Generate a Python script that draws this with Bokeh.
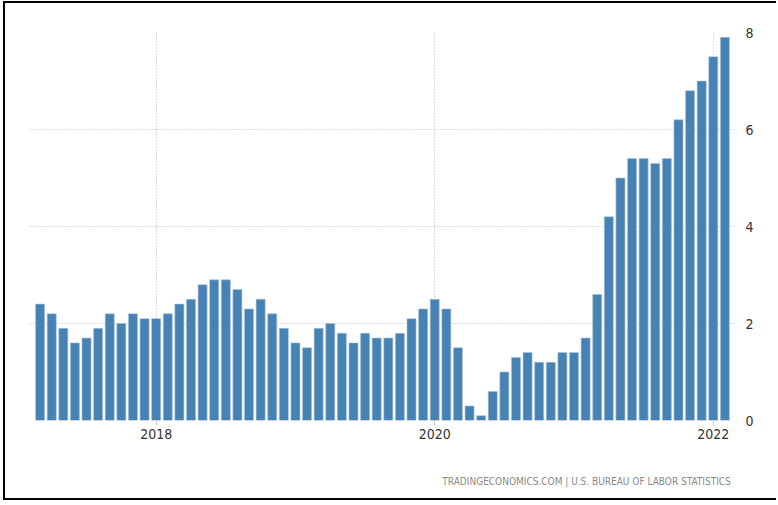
from bokeh.plotting import figure
from bokeh.models import FixedTicker, Title, Range1d
from bokeh.embed import file_html
from bokeh.resources import INLINE

# Monthly US CPI inflation rate, Mar 2017 .. Feb 2022 (%)
months = [f"{y}-{m:02d}" for y in range(2017, 2023) for m in range(1, 13)]
months = months[2:62]
values = [2.4, 2.2, 1.9, 1.6, 1.7, 1.9, 2.2, 2.0, 2.2, 2.1,
          2.1, 2.2, 2.4, 2.5, 2.8, 2.9, 2.9, 2.7, 2.3, 2.5, 2.2, 1.9,
          1.6, 1.5, 1.9, 2.0, 1.8, 1.6, 1.8, 1.7, 1.7, 1.8, 2.1, 2.3,
          2.5, 2.3, 1.5, 0.3, 0.1, 0.6, 1.0, 1.3, 1.4, 1.2, 1.2, 1.4,
          1.4, 1.7, 2.6, 4.2, 5.0, 5.4, 5.4, 5.3, 5.4, 6.2, 6.8, 7.0,
          7.5, 7.9]
x_tick_labels = ["2018", "2020", "2022"]
y_ticks = [0, 2, 4, 6, 8]
source_text = "TRADINGECONOMICS.COM  |  U.S. BUREAU OF LABOR STATISTICS"

idx = list(range(len(values)))
x_ticks = [months.index(f"{lab}-01") for lab in x_tick_labels]

FONT = "'Liberation Sans Narrow', 'DejaVu Sans Condensed', 'Roboto Condensed', Roboto, sans-serif"

p = figure(width=773, height=499, output_backend="svg", toolbar_location=None,
           x_range=Range1d(-1, len(values)), y_range=Range1d(0, 8),
           min_border_left=23, min_border_right=42, min_border_top=29,
           min_border_bottom=82, y_axis_location="right")
p.outline_line_color = None
p.background_fill_color = "white"
p.border_fill_color = "white"

p.vbar(x=idx, top=values, width=0.78, fill_color="#4682b4",
       line_color="#a9c3da", line_width=0.6)

# axes
xa = p.xaxis[0]
xa.ticker = FixedTicker(ticks=x_ticks)
xa.major_label_overrides = {t: l for t, l in zip(x_ticks, x_tick_labels)}
xa.axis_line_color = None
xa.major_tick_line_color = "#cccccc"
xa.major_tick_out = 5
xa.major_tick_in = 0
xa.minor_tick_line_color = None
xa.major_label_text_font = FONT
xa.major_label_text_font_size = "14px"
xa.major_label_text_color = "#333333"
xa.major_label_standoff = 3

ya = p.yaxis[0]
ya.ticker = FixedTicker(ticks=y_ticks)
ya.axis_line_color = None
ya.major_tick_line_color = None
ya.minor_tick_line_color = None
ya.major_label_text_font = FONT
ya.major_label_text_font_size = "14px"
ya.major_label_text_color = "#333333"
ya.major_label_standoff = 3

# grids
p.xgrid.ticker = FixedTicker(ticks=x_ticks)
p.xgrid.grid_line_color = "#bdbdbd"
p.xgrid.grid_line_dash = "1 2"
p.ygrid.ticker = FixedTicker(ticks=y_ticks)
p.ygrid.grid_line_color = "#bdbdbd"
p.ygrid.grid_line_dash = "1 2"

spacer = Title(text=" ", text_font_size="26px", standoff=0)
p.add_layout(spacer, "below")
src = Title(text=source_text, align="right", text_font=FONT,
            text_font_size="10px", text_color="#888888",
            text_font_style="normal", standoff=0)
p.add_layout(src, "below")

p.styles = {"margin-left": "3px", "margin-top": "1px",
            "border-left": "2px solid black", "border-top": "2px solid black",
            "border-bottom": "2px solid black"}

open("out.html", "w").write(file_html(p, INLINE))
